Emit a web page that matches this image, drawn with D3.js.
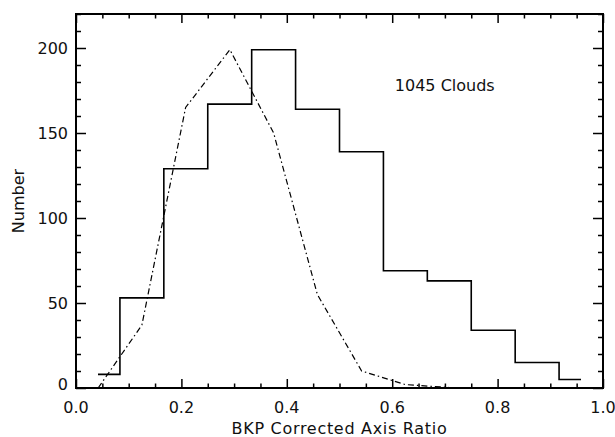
<!DOCTYPE html>
<html>
<head>
<meta charset="utf-8">
<script src="https://cdn.jsdelivr.net/npm/d3@7"></script>
<style>
  body { margin: 0; background: #fff; }
  text { font-family: "DejaVu Sans", sans-serif; fill: #111; }
</style>
</head>
<body>
<div id="chart"></div>
<script>
var width = 615;
var height = 437;

// histogram bin centres (width 1/12) and counts
var binCenters = [0.0417, 0.125, 0.2083, 0.2917, 0.375, 0.4583, 0.5417, 0.625, 0.7083, 0.7917, 0.875, 0.9583];
var binCounts = [8, 53, 129, 167, 199, 164, 139, 69, 63, 34, 15, 5];

// model curve (dash-dot)
var modelX = [0.042, 0.125, 0.208, 0.292, 0.375, 0.458, 0.542, 0.625, 0.708, 0.792, 0.875, 0.958];
var modelY = [0, 37, 165, 199, 150, 55, 10, 2, 0.3, 0, 0, 0];

var xMajor = [0.0, 0.2, 0.4, 0.6, 0.8, 1.0];
var yMajor = [0, 50, 100, 150, 200];
var label = "1045 Clouds";

var margin = {top: 14, right: 12, bottom: 49, left: 76};

var x = d3.scaleLinear().domain([0, 1]).range([margin.left, width - margin.right]);
var y = d3.scaleLinear().domain([0, 220]).range([height - margin.bottom, margin.top]);

var svg = d3.select("#chart").append("svg")
  .attr("width", width)
  .attr("height", height);

svg.append("rect").attr("width", width).attr("height", height).attr("fill", "white");

var xMinor = d3.range(0, 1.0001, 0.05).filter(function(v) { return Math.abs(v * 5 - Math.round(v * 5)) > 1e-6; });
var yMinor = d3.range(0, 221, 10).filter(function(v) { return v % 50 != 0; });

var x0 = x.range()[0], x1 = x.range()[1];
var y0 = y.range()[0], y1 = y.range()[1];

// ticks drawn inward on all four sides
function ticks(axisFn, vals, len, transform, scale) {
  var g = svg.append("g")
    .attr("transform", transform)
    .call(axisFn(scale).tickValues(vals).tickSize(len).tickFormat(""));
  g.select(".domain").remove();
  g.selectAll("line").attr("stroke", "#000").attr("stroke-width", 1.5);
}
ticks(d3.axisTop, xMajor, 9, "translate(0," + y0 + ")", x);
ticks(d3.axisTop, xMinor, 4.5, "translate(0," + y0 + ")", x);
ticks(d3.axisBottom, xMajor, 9, "translate(0," + y1 + ")", x);
ticks(d3.axisBottom, xMinor, 4.5, "translate(0," + y1 + ")", x);
ticks(d3.axisRight, yMajor, 10, "translate(" + x0 + ",0)", y);
ticks(d3.axisRight, yMinor, 5, "translate(" + x0 + ",0)", y);
ticks(d3.axisLeft, yMajor, 10, "translate(" + x1 + ",0)", y);
ticks(d3.axisLeft, yMinor, 5, "translate(" + x1 + ",0)", y);

// frame
svg.append("rect")
  .attr("x", x0).attr("y", y1)
  .attr("width", x1 - x0).attr("height", y0 - y1)
  .attr("fill", "none").attr("stroke", "#000").attr("stroke-width", 2);

// tick labels
svg.selectAll(".xl").data(xMajor).enter().append("text")
  .attr("x", function(d) { return x(d); })
  .attr("y", y0 + 25)
  .attr("text-anchor", "middle")
  .style("font-size", "16px")
  .text(function(d) { return d.toFixed(1); });

svg.selectAll(".yl").data(yMajor).enter().append("text")
  .attr("x", x0 - 8)
  .attr("y", function(d) { return d == 0 ? y(d) - 4 : y(d); })
  .attr("dy", "0.36em")
  .attr("text-anchor", "end")
  .style("font-size", "16px")
  .text(function(d) { return d; });

// axis titles
svg.append("text")
  .attr("x", (x0 + x1) / 2)
  .attr("y", height - 3)
  .attr("text-anchor", "middle")
  .style("font-size", "16px")
  .style("letter-spacing", "0.7px")
  .text("BKP Corrected Axis Ratio");

svg.append("text")
  .attr("transform", "translate(24," + ((y0 + y1) / 2) + ") rotate(-90)")
  .attr("text-anchor", "middle")
  .style("font-size", "16px")
  .text("Number");

// histogram, IDL psym=10 style steps
var steps = [];
for (var i = 0; i < binCenters.length; i++) {
  var left = i == 0 ? binCenters[0] : (binCenters[i - 1] + binCenters[i]) / 2;
  var right = i == binCenters.length - 1 ? binCenters[i] : (binCenters[i] + binCenters[i + 1]) / 2;
  steps.push([left, binCounts[i]]);
  steps.push([right, binCounts[i]]);
}
var line = d3.line().x(function(d) { return x(d[0]); }).y(function(d) { return y(d[1]); });

svg.append("path")
  .attr("d", line(steps))
  .attr("fill", "none")
  .attr("stroke", "#000")
  .attr("stroke-width", 1.6);

var model = modelX.map(function(v, i) { return [v, modelY[i]]; });
svg.append("path")
  .attr("d", line(model))
  .attr("fill", "none")
  .attr("stroke", "#000")
  .attr("stroke-width", 1.2)
  .attr("stroke-dasharray", "6,3,1.5,3");

svg.append("text")
  .attr("x", x(0.605))
  .attr("y", y(175))
  .style("font-size", "16px")
  .text(label);
</script>
</body>
</html>
